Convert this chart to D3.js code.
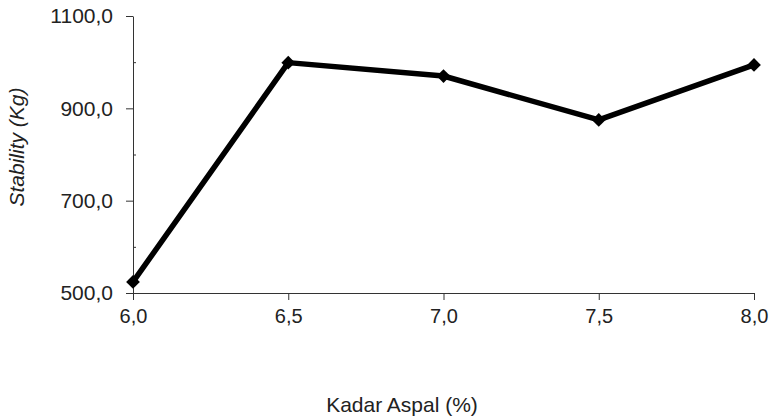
<!DOCTYPE html>
<html>
<head>
<meta charset="utf-8">
<script src="https://cdn.jsdelivr.net/npm/d3@7"></script>
<style>
  html, body { margin: 0; padding: 0; background: #fff; }
  svg { display: block; }
  text { font-family: "Liberation Sans", Arial, sans-serif; fill: #222; }
</style>
</head>
<body>
<svg id="chart" width="771" height="419"></svg>
<script>
const kadarAspal = [6.0, 6.5, 7.0, 7.5, 8.0];
const stability = [524, 999, 970, 875, 994];
const xTicks = [6.0, 6.5, 7.0, 7.5, 8.0];
const yTicks = [500, 700, 900, 1100];
const yMinorTicks = [600, 800, 1000];
const xLabel = "Kadar Aspal (%)";
const yLabel = "Stability (Kg)";

const svg = d3.select("#chart");
const x = d3.scaleLinear().domain([6.0, 8.0]).range([133, 754]);
const y = d3.scaleLinear().domain([500, 1100]).range([293, 16]);
const fmt = v => d3.format(".1f")(v).replace(".", ",");

// y axis
const yAxis = svg.append("g").attr("transform", `translate(${x(6.0)},0)`)
  .call(d3.axisLeft(y).tickValues(yTicks).tickFormat(fmt).tickSize(7).tickSizeOuter(0).tickPadding(13));
yAxis.select(".domain").attr("stroke", "#333");
yAxis.selectAll(".tick line").attr("stroke", "#333");
yAxis.selectAll("text").attr("font-size", 21).attr("fill", "#222").attr("font-family", "Liberation Sans, Arial, sans-serif");
svg.append("g").attr("transform", `translate(${x(6.0)},0)`)
  .call(d3.axisRight(y).tickValues(yMinorTicks).tickSize(3).tickFormat(""))
  .call(g => g.select(".domain").remove())
  .selectAll(".tick line").attr("stroke", "#333");

// x axis
const xAxis = svg.append("g").attr("transform", `translate(0,${y(500)})`)
  .call(d3.axisBottom(x).tickValues(xTicks).tickFormat(fmt).tickSize(7).tickSizeOuter(0).tickPadding(9));
xAxis.select(".domain").attr("stroke", "#333");
xAxis.selectAll(".tick line").attr("stroke", "#333");
xAxis.selectAll("text").attr("font-size", 20).attr("fill", "#222").attr("font-family", "Liberation Sans, Arial, sans-serif");

// line
const data = kadarAspal.map((k, i) => ({ k, v: stability[i] }));
svg.append("path").datum(data)
  .attr("fill", "none").attr("stroke", "#000").attr("stroke-width", 5.5).attr("stroke-linejoin", "round")
  .attr("d", d3.line().x(d => x(d.k)).y(d => y(d.v)));

// diamond markers
svg.selectAll(".pt").data(data).enter().append("path")
  .attr("class", "pt")
  .attr("transform", d => `translate(${x(d.k)},${y(d.v)})`)
  .attr("d", d3.symbol().type(d3.symbolDiamond2).size(120))
  .attr("fill", "#000");

// axis labels
svg.append("text").attr("x", 402).attr("y", 412).attr("text-anchor", "middle")
  .attr("font-size", 21).text(xLabel);
svg.append("text").attr("transform", "translate(24,147) rotate(-90)").attr("text-anchor", "middle")
  .attr("font-size", 21).attr("font-style", "italic").text(yLabel);
</script>
</body>
</html>
